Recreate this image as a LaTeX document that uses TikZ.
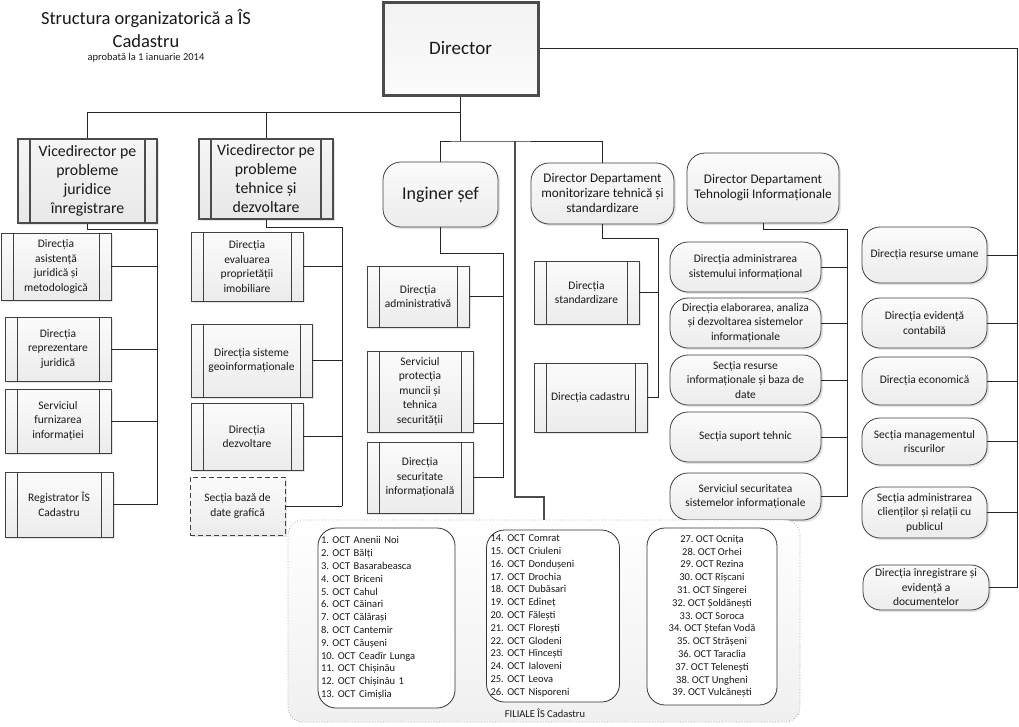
\documentclass[tikz,border=0pt]{standalone}
\usepackage{fontspec}
\setmainfont{Carlito}
\frenchspacing
\usetikzlibrary{positioning}
\usetikzlibrary{shadows}

\begin{document}
\begin{tikzpicture}[x=1pt, y=-1pt,
  every node/.style={text=black!90, inner sep=1pt},
  wh/.style 2 args={minimum width=#1pt, minimum height=#2pt},
  box/.style={draw=black!75, line width=0.8pt, top color=gray!3, bottom color=gray!15, align=center,
    drop shadow={shadow xshift=2pt, shadow yshift=-2pt, fill=gray!60, opacity=0.35},
    font=\fontsize{11.5}{14.5}\selectfont},
  sub/.style={box, path picture={
    \draw[black!75, line width=0.8pt] ([xshift=12pt]path picture bounding box.north west) -- ([xshift=12pt]path picture bounding box.south west)
      ([xshift=-12pt]path picture bounding box.north east) -- ([xshift=-12pt]path picture bounding box.south east);}},
  vice/.style={box, draw=black!70, line width=2.6pt, top color=gray!8, bottom color=gray!18,
    font=\fontsize{15.8}{19}\selectfont, path picture={
    \draw[black!70, line width=2pt] ([xshift=12pt]path picture bounding box.north west) -- ([xshift=12pt]path picture bounding box.south west)
      ([xshift=-12pt]path picture bounding box.north east) -- ([xshift=-12pt]path picture bounding box.south east);}},
  chief/.style={box, draw=black!70, line width=3pt, top color=gray!10, bottom color=gray!3,
    font=\fontsize{19}{23}\selectfont},
  rbox/.style={box, rounded corners=18pt},
  dbox/.style={box, dashed, dash pattern=on 5pt off 3pt, drop shadow={opacity=0}},
  fil/.style={draw=gray!70, dotted, line width=0.8pt, rounded corners=15pt, top color=white, bottom color=gray!12},
  lista/.style={draw=black!80, line width=0.8pt, rounded corners=18pt, fill=white,
    font=\fontsize{10.5}{12.8}\selectfont},
  conn/.style={draw=black!85, line width=0.8pt},
  trunk/.style={draw=black!70, line width=2.5pt}]
  \useasboundingbox (0,0) rectangle (1019,726);

  \node (titlu) [font=\fontsize{18.5}{23}\selectfont, align=center] at (146,28) {Structura organizatorică a ÎS\\Cadastru};
  \node (aprob) [below=3.5pt of titlu, font=\fontsize{10.5}{12}\selectfont] {aprobată la 1 ianuarie 2014};

  \node (dir) [chief, wh={155}{93}] at (460.5,48.5) {Director};

  \node (vice1) [vice, wh={139}{84}] at (87.5,181) {Vicedirector pe\\probleme\\juridice\\înregistrare};
  \node (vice2) [vice, wh={134}{80}] at (266,179) {Vicedirector pe\\probleme\\tehnice și\\dezvoltare};

  \node (dAsist) [sub, wh={110}{67}] at (56,266.5) {Direcția\\asistență\\juridică și\\metodologică};
  \node (dRepr) [sub, wh={106}{64}] at (58,349) {Direcția\\reprezentare\\juridică};
  \node (sFurn) [sub, wh={106}{64}] at (58,421) {Serviciul\\furnizarea\\informației};
  \node (reg) [sub, wh={108}{65}] at (59,504.5) {Registrator ÎS\\Cadastru};

  \node (dEval) [sub, wh={112}{69}] at (247,266.5) {Direcția\\evaluarea\\proprietății\\imobiliare};
  \node (dGeo) [sub, wh={121}{73}] at (251.5,360.5) {Direcția sisteme\\geoinformaționale};
  \node (dDezv) [sub, wh={112}{67}] at (247,436.5) {Direcția\\dezvoltare};
  \node (sBaza) [dbox, wh={95}{58}] at (237.5,506) {Secția bază de\\date grafică};

  \node (ing) [rbox, font=\fontsize{18}{21}\selectfont, wh={115}{65}] at (440.5,194.5) {Inginer șef};
  \node (dAdm) [sub, wh={102}{61}] at (418,296.5) {Direcția\\administrativă};
  \node (sProt) [sub, wh={106}{81}] at (420,391.5) {Serviciul\\protecția\\muncii și\\tehnica\\securității};
  \node (dSec) [sub, wh={106}{71}] at (420,477.5) {Direcția\\securitate\\informațională};

  \node (mon) [rbox, font=\fontsize{13.2}{15}\selectfont, wh={143}{61}] at (602.5,193.5) {Director Departament\\monitorizare tehnică și\\standardizare};
  \node (dStd) [sub, wh={105}{63}] at (586.5,292.5) {Direcția\\standardizare};
  \node (dCad) [sub, wh={113}{69}] at (590.5,397.5) {Direcția cadastru};

  \node (ti) [rbox, font=\fontsize{13.2}{15}\selectfont, wh={152}{70}] at (763,188) {Director Departament\\Tehnologii Informaționale};
  \node (tiAdm) [rbox, wh={151}{50}] at (745.5,267) {Direcția administrarea\\sistemului informațional};
  \node (tiElab) [rbox, wh={151}{50}] at (745.5,323) {Direcția elaborarea, analiza\\și dezvoltarea sistemelor\\informaționale};
  \node (tiRes) [rbox, wh={151}{50}] at (745.5,380) {Secția resurse\\informaționale și baza de\\date};
  \node (tiSup) [rbox, wh={151}{50}] at (745.5,437) {Secția suport tehnic};
  \node (tiSec) [rbox, wh={151}{47}] at (745.5,496.5) {Serviciul securitatea\\sistemelor informaționale};

  \node (dRU) [rbox, wh={125}{56}] at (924.5,255) {Direcția resurse umane};
  \node (dEvid) [rbox, wh={125}{50}] at (924.5,323) {Direcția evidență\\contabilă};
  \node (dEcon) [rbox, wh={125}{48}] at (924.5,381) {Direcția economică};
  \node (sRisc) [rbox, wh={125}{47}] at (924.5,441.5) {Secția managementul\\riscurilor};
  \node (sClient) [rbox, wh={125}{51}] at (924.5,512.5) {Secția administrarea\\clienților și relații cu\\publicul};
  \node (dInreg) [rbox, wh={126}{45}] at (926,587.5) {Direcția înregistrare și\\evidență a\\documentelor};

  \node (filiale) [fil, wh={512}{202}] at (544,621) {};
  \node (filT) [font=\fontsize{10.5}{12}\selectfont] at (545,713) {FILIALE ÎS Cadastru};
  \node (oct1) [lista, wh={137}{180}, align=left, text width=131pt] at (386.5,618) {1. OCT Anenii Noi\\2. OCT Bălți\\3. OCT Basarabeasca\\4. OCT Briceni\\5. OCT Cahul\\6. OCT Căinari\\7. OCT Călărași\\8. OCT Cantemir\\9. OCT Căușeni\\10. OCT Ceadîr Lunga\\11. OCT Chișinău\\12. OCT Chișinău 1\\13. OCT Cimișlia};
  \node (oct2) [lista, wh={133}{172}, align=left, text width=125pt] at (553,616) {14. OCT Comrat\\15. OCT Criuleni\\16. OCT Dondușeni\\17. OCT Drochia\\18. OCT Dubăsari\\19. OCT Edineț\\20. OCT Fălești\\21. OCT Florești\\22. OCT Glodeni\\23. OCT Hîncești\\24. OCT Ialoveni\\25. OCT Leova\\26. OCT Nisporeni};
  \node (oct3) [lista, wh={130}{177}, align=center] at (712,616.5) {27. OCT Ocnița\\28. OCT Orhei\\29. OCT Rezina\\30. OCT Rîșcani\\31. OCT Sîngerei\\32. OCT Șoldănești\\33. OCT Soroca\\34. OCT Ștefan Vodă\\35. OCT Strășeni\\36. OCT Taraclia\\37. OCT Telenești\\38. OCT Ungheni\\39. OCT Vulcănești};

  \coordinate (jA) at (460.5,112);
  \coordinate (jB) at (460.5,141);
  \coordinate (jC) at (515,141);
  \coordinate (b1) at (157,229);
  \coordinate (b2) at (342,227);
  \coordinate (b3) at (503,253);
  \coordinate (b4) at (658,238);
  \coordinate (b5) at (847,229);
  \coordinate (b6) at (1017,48.5);
  \coordinate (pProt) at ([yshift=-31.5pt]sProt.east);

  \draw [conn] (dir.south) -- (jB);
  \draw [conn] (vice1.north) |- (jA);
  \draw [conn] (vice2.north) |- (jA);
  \draw [conn] (ing.north) |- (jB) -| (mon.north);
  \draw [trunk] (jC) -- ++(0,356) -| (filiale.north);
  \draw [conn] (dir.east) -- (b6) |- (dInreg.east);

  \draw [conn] (vice1.south) |- (b1) -- (b1 |- reg.east);
  \draw [conn] (dAsist.east) -- (dAsist.east -| b1);
  \draw [conn] (dRepr.east) -- (dRepr.east -| b1);
  \draw [conn] (sFurn.east) -- (sFurn.east -| b1);
  \draw [conn] (reg.east) -- (reg.east -| b1);

  \draw [conn] (vice2.south) |- (b2) -- (b2 |- sBaza.east);
  \draw [conn] (dEval.east) -- (dEval.east -| b2);
  \draw [conn] (dGeo.east) -- (dGeo.east -| b2);
  \draw [conn] (dDezv.east) -- (dDezv.east -| b2);
  \draw [conn] (sBaza.east) -- (sBaza.east -| b2);

  \draw [conn] (ing.south) |- (b3) -- (b3 |- dSec.east);
  \draw [conn] (dAdm.east) -- (dAdm.east -| b3);
  \draw [conn] (pProt) -- (pProt -| b3);
  \draw [conn] (dSec.east) -- (dSec.east -| b3);

  \draw [conn] (mon.south) |- (b4) -- (b4 |- dCad.east);
  \draw [conn] (dStd.east) -- (dStd.east -| b4);
  \draw [conn] (dCad.east) -- (dCad.east -| b4);

  \draw [conn] (ti.south) |- (b5) -- (b5 |- tiSec.east);
  \draw [conn] (tiAdm.east) -- (tiAdm.east -| b5);
  \draw [conn] (tiElab.east) -- (tiElab.east -| b5);
  \draw [conn] (tiRes.east) -- (tiRes.east -| b5);
  \draw [conn] (tiSup.east) -- (tiSup.east -| b5);
  \draw [conn] (tiSec.east) -- (tiSec.east -| b5);

  \draw [conn] (dRU.east) -- (dRU.east -| b6);
  \draw [conn] (dEvid.east) -- (dEvid.east -| b6);
  \draw [conn] (dEcon.east) -- (dEcon.east -| b6);
  \draw [conn] (sRisc.east) -- (sRisc.east -| b6);
  \draw [conn] (sClient.east) -- (sClient.east -| b6);
\end{tikzpicture}
\end{document}
